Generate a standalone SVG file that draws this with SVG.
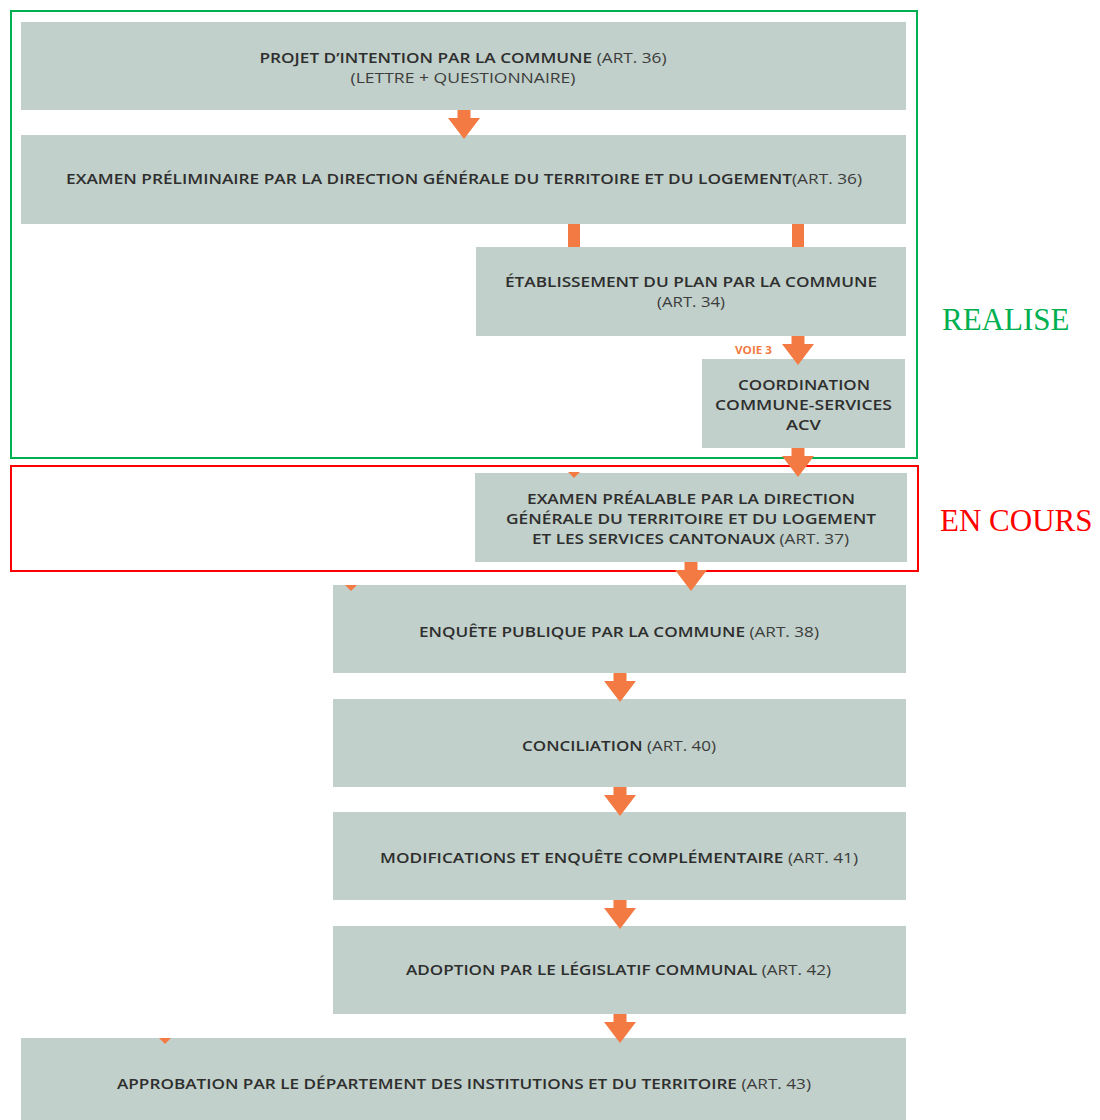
<svg xmlns="http://www.w3.org/2000/svg" width="1100" height="1120" viewBox="0 0 1100 1120">
<style>
.box{fill:#c1d0ca}
.t{font-family:"Open Sans","Liberation Sans",sans-serif;font-size:15px;font-weight:600;fill:#2e2e2e;text-anchor:middle}
.a{font-weight:400;fill:#3c3c3c}
.arr{fill:#f37a43}
.voie{font-family:"Open Sans","Liberation Sans",sans-serif;font-size:10px;font-weight:700;fill:#f37a43}
.lbl{font-family:"Liberation Serif","Times New Roman",serif;font-size:31px}
</style>
<defs>
<path id="arrow" d="M-6.5,0 H6.5 V8 H16 L0,29 L-16,8 H-6.5 Z"/>
</defs>
<rect width="1100" height="1120" fill="#fff"/>
<g id="nodes">
<g id="n1"><rect class="box" x="21" y="22" width="885" height="88"/>
<text class="t" x="463" y="62.5" textLength="407" lengthAdjust="spacingAndGlyphs">PROJET D’INTENTION PAR LA COMMUNE <tspan class="a">(ART. 36)</tspan></text>
<text class="t a" x="463" y="82.5" textLength="225" lengthAdjust="spacingAndGlyphs">(LETTRE + QUESTIONNAIRE)</text></g>
<g id="n2"><rect class="box" x="21" y="135" width="885" height="89"/>
<text class="t" x="464" y="183.5" textLength="796" lengthAdjust="spacingAndGlyphs">EXAMEN PRÉLIMINAIRE PAR LA DIRECTION GÉNÉRALE DU TERRITOIRE ET DU LOGEMENT<tspan class="a">(ART. 36)</tspan></text></g>
<g id="n3"><rect class="box" x="476" y="247" width="430" height="89"/>
<text class="t" x="691" y="287" textLength="372" lengthAdjust="spacingAndGlyphs">ÉTABLISSEMENT DU PLAN PAR LA COMMUNE</text>
<text class="t a" x="691" y="307" textLength="68" lengthAdjust="spacingAndGlyphs">(ART. 34)</text></g>
<g id="n4"><rect class="box" x="702" y="359" width="203" height="89"/>
<text class="t" x="804" y="390" textLength="132" lengthAdjust="spacingAndGlyphs">COORDINATION</text>
<text class="t" x="803.5" y="410" textLength="177" lengthAdjust="spacingAndGlyphs">COMMUNE-SERVICES</text>
<text class="t" x="803.5" y="430" textLength="35" lengthAdjust="spacingAndGlyphs">ACV</text></g>
<g id="n5"><rect class="box" x="475" y="473" width="432" height="89"/>
<text class="t" x="691" y="503.5" textLength="328" lengthAdjust="spacingAndGlyphs">EXAMEN PRÉALABLE PAR LA DIRECTION</text>
<text class="t" x="691" y="523.5" textLength="370" lengthAdjust="spacingAndGlyphs">GÉNÉRALE DU TERRITOIRE ET DU LOGEMENT</text>
<text class="t" x="690.5" y="543.5" textLength="317" lengthAdjust="spacingAndGlyphs">ET LES SERVICES CANTONAUX <tspan class="a">(ART. 37)</tspan></text></g>
<g id="n6"><rect class="box" x="333" y="585" width="573" height="88"/>
<text class="t" x="619" y="636.5" textLength="400" lengthAdjust="spacingAndGlyphs">ENQUÊTE PUBLIQUE PAR LA COMMUNE <tspan class="a">(ART. 38)</tspan></text></g>
<g id="n7"><rect class="box" x="333" y="699" width="573" height="88"/>
<text class="t" x="619" y="750.5" textLength="194" lengthAdjust="spacingAndGlyphs">CONCILIATION <tspan class="a">(ART. 40)</tspan></text></g>
<g id="n8"><rect class="box" x="333" y="812" width="573" height="88"/>
<text class="t" x="619" y="862.5" textLength="478" lengthAdjust="spacingAndGlyphs">MODIFICATIONS ET ENQUÊTE COMPLÉMENTAIRE <tspan class="a">(ART. 41)</tspan></text></g>
<g id="n9"><rect class="box" x="333" y="926" width="573" height="88"/>
<text class="t" x="618.5" y="974.5" textLength="425" lengthAdjust="spacingAndGlyphs">ADOPTION PAR LE LÉGISLATIF COMMUNAL <tspan class="a">(ART. 42)</tspan></text></g>
<g id="n10"><rect class="box" x="21" y="1038" width="885" height="90"/>
<text class="t" x="464" y="1088.5" textLength="694" lengthAdjust="spacingAndGlyphs">APPROBATION PAR LE DÉPARTEMENT DES INSTITUTIONS ET DU TERRITOIRE <tspan class="a">(ART. 43)</tspan></text></g>
</g>
<g id="status">
<rect x="11" y="11" width="906" height="447" fill="none" stroke="#00b050" stroke-width="2"/>
<rect x="11" y="466" width="907" height="105" fill="none" stroke="#ff0000" stroke-width="2"/>
<text class="lbl" x="942" y="330" fill="#00b050">REALISE</text>
<text class="lbl" x="940" y="531" fill="#ff0000">EN COURS</text>
</g>
<g id="connectors" class="arr">
<use href="#arrow" x="464" y="110"/>
<rect x="568" y="224" width="12" height="23"/>
<rect x="792" y="224" width="12" height="23"/>
<use href="#arrow" x="798" y="336"/>
<use href="#arrow" x="798" y="448"/>
<use href="#arrow" x="691" y="562"/>
<use href="#arrow" x="620" y="673"/>
<use href="#arrow" x="620" y="787"/>
<use href="#arrow" x="620" y="900"/>
<use href="#arrow" x="620" y="1014"/>
<path d="M568,472 H580 L574,478 Z"/>
<path d="M345,585 H357 L351,591 Z"/>
<path d="M159,1038 H171 L165,1044 Z"/>
<text class="voie" x="735" y="353.5" textLength="37" lengthAdjust="spacingAndGlyphs">VOIE 3</text>
</g>
</svg>
